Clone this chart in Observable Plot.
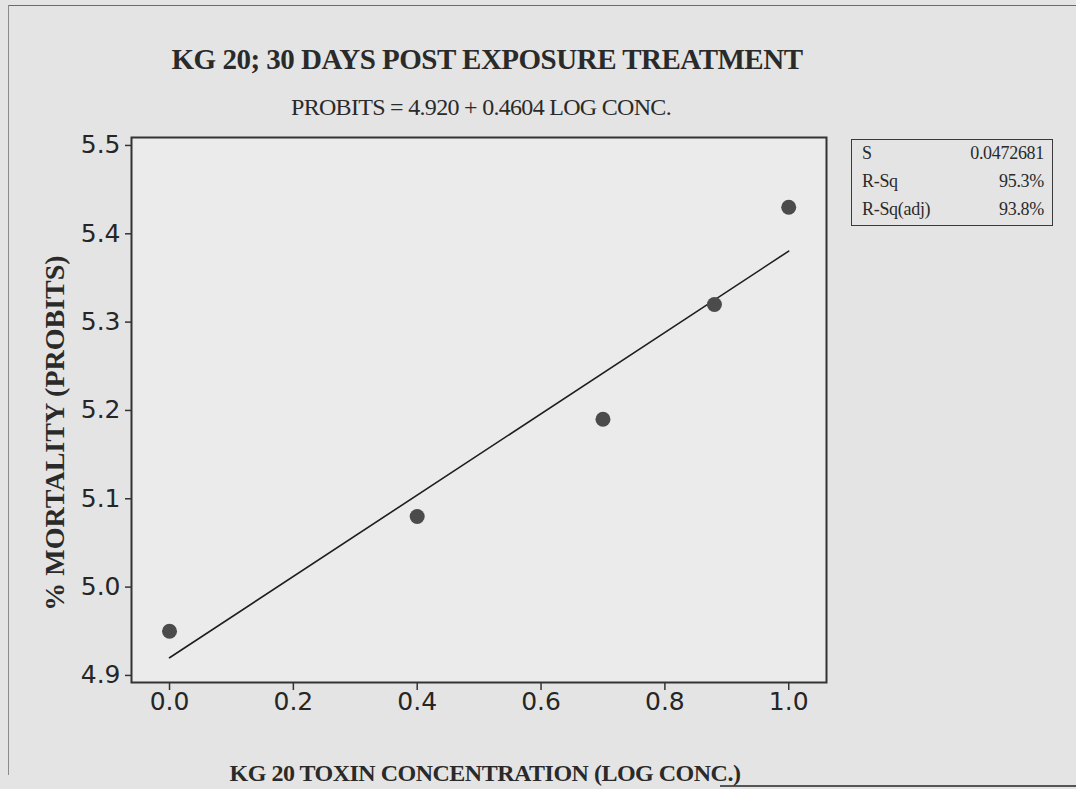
<!DOCTYPE html>
<html>
<head>
<meta charset="utf-8">
<script src="https://cdn.jsdelivr.net/npm/d3@7"></script>
<script src="https://cdn.jsdelivr.net/npm/@observablehq/plot@0.6"></script>
<style>
  html, body { margin: 0; padding: 0; background: #e4e4e4; }
  #page { position: relative; width: 1076px; height: 789px; overflow: hidden; color: #2a2a2a; }
  .serif { font-family: "Liberation Serif", "Times New Roman", serif; position: absolute; white-space: nowrap; }
  #title { left: 0; width: 974px; text-align: center; top: 43px; font-size: 29px; font-weight: bold; letter-spacing: -0.5px; }
  #subtitle { left: 0; width: 962px; text-align: center; top: 94px; font-size: 24px; letter-spacing: -0.7px; }
  #xlabel { left: 0; width: 970px; text-align: center; top: 760px; font-size: 24px; font-weight: bold; letter-spacing: -0.5px; }
  #ylabel { left: 55px; top: 433px; font-size: 28px; font-weight: bold; transform: translate(-50%, -50%) rotate(-90deg); }
  #chart { position: absolute; left: 0; top: 120px; }
  #stats { position: absolute; left: 851px; top: 139px; width: 200px; height: 85px; border: 1.5px solid #3a3a3a; }
  #stats .row { position: absolute; left: 10px; right: 8px; font-family: "Liberation Serif", serif; font-size: 18px; letter-spacing: -0.3px; }
  #stats .row span:last-child { position: absolute; right: 0; }
  #frameTop { position: absolute; left: 8px; right: 0; top: 5px; border-top: 1.5px solid #6a6a6a; }
  #frameLeft { position: absolute; left: 8px; top: 5px; height: 770px; border-left: 1.5px solid #8a8a8a; }
  #frameBottom { position: absolute; left: 720px; right: 0; top: 785px; border-top: 2px solid #555; }
</style>
</head>
<body>
<div id="page">
  <div id="frameTop"></div>
  <div id="frameLeft"></div>
  <div id="frameBottom"></div>
  <div id="title" class="serif">KG 20; 30 DAYS POST EXPOSURE TREATMENT</div>
  <div id="subtitle" class="serif">PROBITS = 4.920 + 0.4604 LOG CONC.</div>
  <div id="ylabel" class="serif">% MORTALITY (PROBITS)</div>
  <div id="xlabel" class="serif">KG 20 TOXIN CONCENTRATION (LOG CONC.)</div>
  <div id="chart"></div>
  <div id="stats"></div>
</div>
<script>
// Observed mortality (probits) against log toxin concentration
const logConc = [0.0, 0.4, 0.7, 0.88, 1.0];
const probits = [4.95, 5.08, 5.19, 5.32, 5.43];

// Fitted regression line: PROBITS = intercept + slope * LOG CONC.
const intercept = 4.920;
const slope = 0.4604;

// Axis tick values
const xTicks = [0.0, 0.2, 0.4, 0.6, 0.8, 1.0];
const yTicks = [4.9, 5.0, 5.1, 5.2, 5.3, 5.4, 5.5];

// Summary statistics shown in the box
const statNames = ["S", "R-Sq", "R-Sq(adj)"];
const statValues = ["0.0472681", "95.3%", "93.8%"];

const points = logConc.map((x, i) => ({x, y: probits[i]}));
const xExtent = d3.extent(logConc);
const fit = xExtent.map(x => ({x, y: intercept + slope * x}));

const chart = Plot.plot({
  width: 1076,
  height: 600,
  marginLeft: 131,
  marginRight: 250,
  marginTop: 17,
  marginBottom: 38,
  style: {background: "transparent", fontFamily: "'DejaVu Sans', sans-serif", fontSize: "25px", color: "#262626"},
  x: {domain: [-0.0614, 1.061]},
  y: {domain: [4.892, 5.509]},
  marks: [
    Plot.frame({fill: "#ebebeb"}),
    Plot.axisX({ticks: xTicks, tickFormat: d => d.toFixed(1), tickSize: 8, tickPadding: 2, label: null, stroke: "#333", strokeWidth: 1.5}),
    Plot.axisY({ticks: yTicks, tickFormat: d => d.toFixed(1), tickSize: 6, tickPadding: 5, label: null, stroke: "#333", strokeWidth: 1.5}),
    Plot.line(fit, {x: "x", y: "y", stroke: "#1e1e1e", strokeWidth: 1.6}),
    Plot.dot(points, {x: "x", y: "y", r: 7.5, fill: "#4b4b4b"}),
    Plot.frame({stroke: "#333", strokeWidth: 2})
  ]
});
document.getElementById("chart").appendChild(chart);

const stats = document.getElementById("stats");
const rowTops = [3, 31, 59];
statNames.forEach((name, i) => {
  const row = document.createElement("div");
  row.className = "row";
  row.style.top = rowTops[i] + "px";
  row.innerHTML = `<span>${name}</span><span>${statValues[i]}</span>`;
  stats.appendChild(row);
});
</script>
</body>
</html>
